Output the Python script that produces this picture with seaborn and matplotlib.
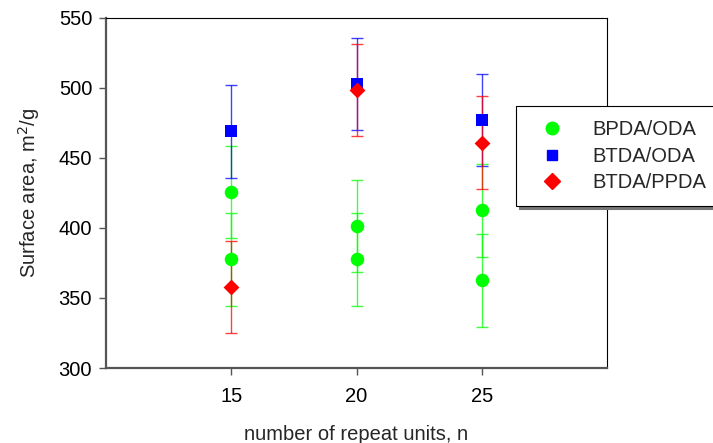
"""
surface area vs number of repeat units, with error bars
"""
import matplotlib
matplotlib.use("Agg")
import matplotlib.pyplot as plt
import seaborn as sns
import pandas as pd

# values
bpda_oda_n = [15, 15, 20, 20, 25, 25]
bpda_oda_sa = [425.5, 377.5, 401.5, 377.5, 412.5, 362.5]
bpda_oda_err = [33, 33, 33, 33, 33, 33]

btda_oda_n = [15, 20, 25]
btda_oda_sa = [469, 503, 477]
btda_oda_err = [33, 33, 33]

btda_ppda_n = [15, 20, 25]
btda_ppda_sa = [358, 498.5, 461]
btda_ppda_err = [33, 33, 33]

series = ["BPDA/ODA", "BTDA/ODA", "BTDA/PPDA"]
colors = {"BPDA/ODA": "#00ff00", "BTDA/ODA": "#0000ff", "BTDA/PPDA": "#ff0000"}
markers = {"BPDA/ODA": "o", "BTDA/ODA": "s", "BTDA/PPDA": "D"}
sizes = {"BPDA/ODA": 95, "BTDA/ODA": 75, "BTDA/PPDA": 65}

df = pd.concat([
    pd.DataFrame({"n": bpda_oda_n, "sa": bpda_oda_sa, "err": bpda_oda_err, "polymer": "BPDA/ODA"}),
    pd.DataFrame({"n": btda_oda_n, "sa": btda_oda_sa, "err": btda_oda_err, "polymer": "BTDA/ODA"}),
    pd.DataFrame({"n": btda_ppda_n, "sa": btda_ppda_sa, "err": btda_ppda_err, "polymer": "BTDA/PPDA"}),
], ignore_index=True)

sns.set_style("white")
plt.rcParams["font.family"] = ["Liberation Sans", "DejaVu Sans"]
fs = 14.5

fig = plt.figure(figsize=(7.13, 4.43), dpi=100)
ax = fig.add_axes([0.1487, 0.1693, 0.7026, 0.7901])

for name in series:
    d = df[df["polymer"] == name]
    ax.errorbar(d["n"], d["sa"], yerr=d["err"], fmt="none", ecolor=colors[name],
                elinewidth=1, capsize=4, capthick=1, alpha=0.75, zorder=2)

for name in series:
    d = df[df["polymer"] == name]
    sns.scatterplot(data=d, x="n", y="sa", ax=ax, color=colors[name], marker=markers[name],
                    s=sizes[name], linewidth=0, label=name, zorder=3, legend=False)

ax.set_xlim(10, 30)
ax.set_ylim(300, 550)
ax.set_xticks([15, 20, 25])
ax.set_yticks([300, 350, 400, 450, 500, 550])
ax.tick_params(axis="both", direction="out", length=5, width=1, labelsize=fs,
               left=True, bottom=True, colors="#555555", labelcolor="black")
ax.tick_params(axis="x", pad=9)
ax.tick_params(axis="y", pad=5)
ax.set_xlabel("number of repeat units, n", fontsize=fs, labelpad=13.5)
ax.set_ylabel("Surface area, m$^2$/g", fontsize=fs, labelpad=12)

for side in ["left", "bottom"]:
    ax.spines[side].set_color("#555555")
    ax.spines[side].set_linewidth(1.6)
for side in ["top", "right"]:
    ax.spines[side].set_color("black")
    ax.spines[side].set_linewidth(0.8)

handles = [plt.Line2D([], [], linestyle="none", marker=markers[s], color=colors[s],
                      markersize={"BPDA/ODA": 9, "BTDA/ODA": 7, "BTDA/PPDA": 8}[s]) for s in series]
leg = fig.legend(handles, series, loc="upper left", bbox_to_anchor=(0.7237, 0.7607),
                 bbox_transform=fig.transFigure, frameon=True, fancybox=False,
                 shadow={"color": "#777777", "alpha": 1.0},
                 fontsize=fs, handletextpad=0.9, borderpad=0.7, labelspacing=0.37,
                 handlelength=2.2, borderaxespad=0)
leg.get_frame().set_edgecolor("black")
leg.get_frame().set_linewidth(0.8)

plt.savefig("out.png", dpi=100)
